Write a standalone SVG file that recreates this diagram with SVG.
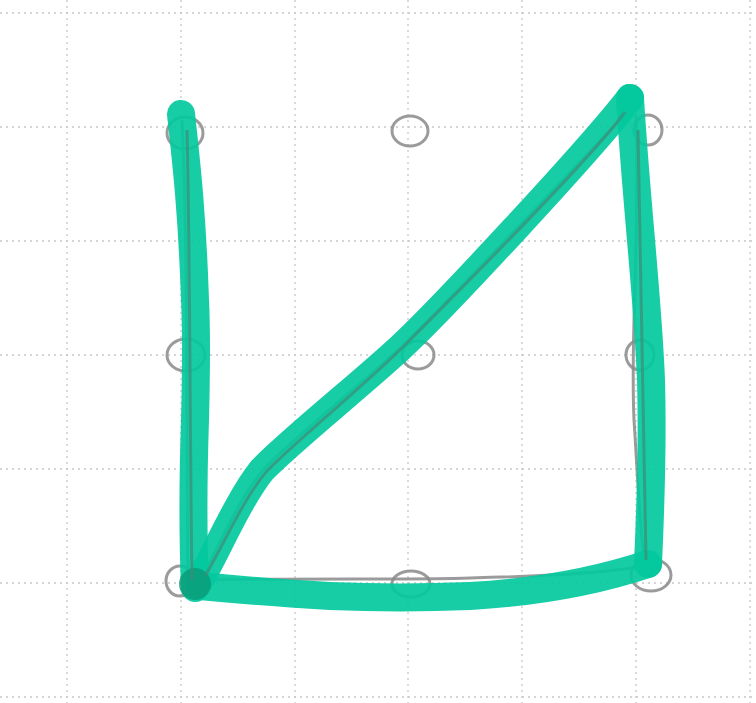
<svg xmlns="http://www.w3.org/2000/svg" width="756" height="703" viewBox="0 0 756 703">
<style>
.grid line{stroke:#c8c8c8;stroke-width:1.3;stroke-dasharray:2 4}
.pencil{fill:none;stroke:#8a8a8a;stroke-width:3;opacity:0.85}
.marker{fill:none;stroke:#03c99e;stroke-width:28;stroke-linecap:round;stroke-linejoin:round;opacity:0.92}
.core{fill:none;stroke:#3f8c78;stroke-width:3;opacity:0.7}
</style>
<rect width="756" height="703" fill="#ffffff"/>
<g class="grid">
<line x1="67" y1="0" x2="67" y2="703"/>
<line x1="181" y1="0" x2="181" y2="703"/>
<line x1="295" y1="0" x2="295" y2="703"/>
<line x1="408" y1="0" x2="408" y2="703"/>
<line x1="522" y1="0" x2="522" y2="703"/>
<line x1="636" y1="0" x2="636" y2="703"/>
<line x1="750" y1="0" x2="750" y2="703"/>
<line x1="0" y1="13" x2="756" y2="13"/>
<line x1="0" y1="127" x2="756" y2="127"/>
<line x1="0" y1="241" x2="756" y2="241"/>
<line x1="0" y1="355" x2="756" y2="355"/>
<line x1="0" y1="469" x2="756" y2="469"/>
<line x1="0" y1="583" x2="756" y2="583"/>
<line x1="0" y1="697" x2="756" y2="697"/>
</g>
<g id="points" class="pencil">
<ellipse cx="185" cy="133" rx="18" ry="16"/>
<ellipse cx="410" cy="131" rx="18" ry="15"/>
<ellipse cx="648" cy="130" rx="14" ry="15"/>
<ellipse cx="186" cy="355" rx="19" ry="16"/>
<ellipse cx="418" cy="355" rx="16" ry="14"/>
<ellipse cx="640" cy="355" rx="14" ry="15"/>
<ellipse cx="180" cy="581" rx="14" ry="15"/>
<ellipse cx="411" cy="584" rx="19" ry="13"/>
<ellipse cx="651" cy="575" rx="20" ry="16"/>
</g>
<g id="pencil-lines" class="pencil">
<path d="M182 120 C188 250 186 400 188 580"/>
<path d="M200 580 C215 555 240 495 265 468 C290 441 360 385 400 348 C440 311 590 150 630 110"/>
<path d="M636 115 C640 250 630 330 634 420 C638 480 640 540 646 568"/>
<path d="M200 580 C300 578 420 580 470 578 C560 576 610 572 646 566"/>
</g>
<g id="marker-lines">
<path class="marker" d="M181 114 C186 160 192 210 195 300 C197 340 196 380 195 420 C193 480 193 540 195 588"/>
<path class="marker" d="M200 580 C215 555 238 500 262 470 C290 441 360 385 400 348 C440 311 590 150 630 98"/>
<path class="marker" d="M630 98 C636 200 648 300 651 380 C653 450 650 520 648 564"/>
<path class="marker" d="M648 564 C600 580 540 592 470 596 C420 598 380 598 330 596 C280 593 240 590 200 586"/>
<circle cx="195" cy="584" r="16" fill="#0b9a78" opacity="0.8"/>
</g>
<g id="marker-core">
<path class="core" d="M187 130 C190 250 190 450 192 580"/>
<path class="core" d="M205 576 C222 548 245 495 268 470 C295 442 365 385 405 345 C450 300 590 160 625 112"/>
<path class="core" d="M638 130 C640 300 645 450 646 560"/>
</g>
</svg>
